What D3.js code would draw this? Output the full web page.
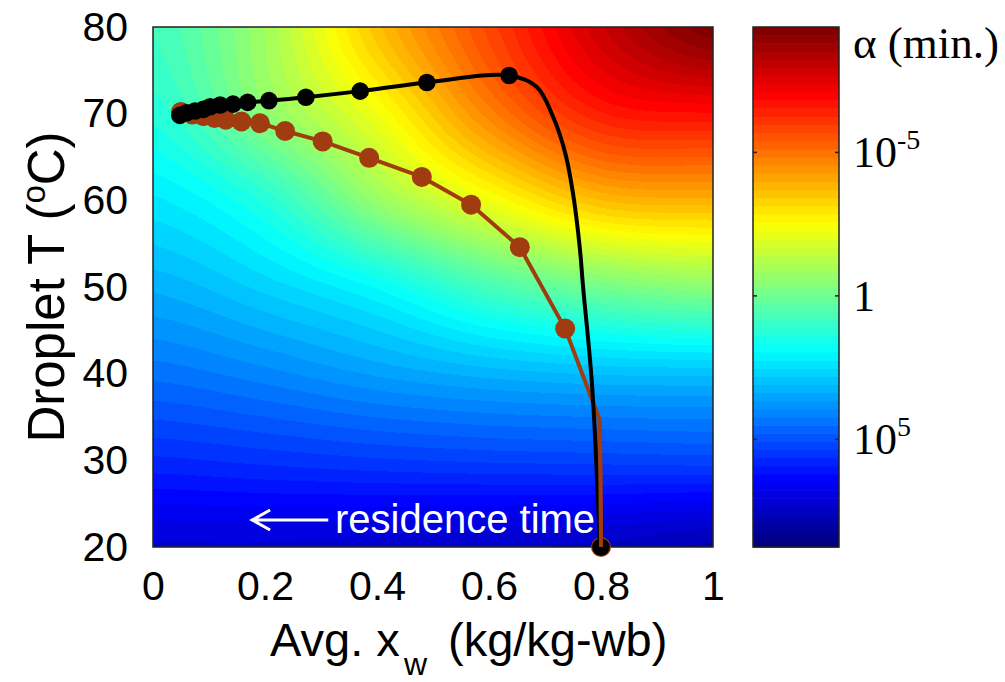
<!DOCTYPE html>
<html><head><meta charset="utf-8">
<script src="https://cdn.jsdelivr.net/npm/d3@7"></script>
<style>body{margin:0;background:#fff;} svg{display:block;}</style>
</head><body>
<svg id="chart" width="1005" height="682"></svg>
<script>
// ---------- data ----------
const xTicks = [0, 0.2, 0.4, 0.6, 0.8, 1];
const yTicks = [20, 30, 40, 50, 60, 70, 80];
// background field: log10(alpha, min)
const gridX = [0, 0.2, 0.4, 0.6, 0.8, 1.0];
const gridT = [20, 30, 40, 50, 60, 70, 80];
const logA_T20 = [7.1, 7.1, 7.2, 7.3, 7.4, 7.7];
const logA_T30 = [5.7, 5.55, 5.4, 5.3, 5.25, 5.2];
const logA_T40 = [4.4, 4.05, 3.6, 3.25, 3.05, 3.0];
const logA_T50 = [3.3, 2.7, 1.9, 0.7, -0.1, -0.5];
const logA_T60 = [2.3, 1.3, -0.7, -2.3, -3.7, -3.9];
const logA_T70 = [1.3, -0.5, -2.3, -4.7, -6.5, -6.8];
const logA_T80 = [0.8, -0.9, -3.6, -5.8, -7.9, -9.3];
// colour bar
const cbDomain = [8.75, -9.37];          // log10(alpha) at bottom / top of bar
const cbTicks = [-5, 0, 5];
const cbTickBase = ["10", "1", "10"];
const cbTickExp = ["-5", "", "5"];
// black trajectory
const blackLineX = [0.048, 0.06, 0.075, 0.09, 0.102, 0.12, 0.143, 0.169, 0.207, 0.273, 0.370, 0.489, 0.636, 0.685, 0.714, 0.736, 0.750, 0.762, 0.768, 0.784, 0.798];
const blackLineT = [69.8, 70.1, 70.3, 70.5, 70.8, 71.0, 71.1, 71.3, 71.5, 71.9, 72.6, 73.6, 74.4, 73.1, 69.7, 65.5, 60.8, 54.6, 50.0, 38.7, 20.0];
const blackDotX = [0.048, 0.06, 0.075, 0.09, 0.102, 0.12, 0.143, 0.169, 0.207, 0.273, 0.370, 0.489, 0.636, 0.800];
const blackDotT = [69.8, 70.1, 70.3, 70.5, 70.8, 71.0, 71.1, 71.3, 71.5, 71.9, 72.6, 73.6, 74.4, 20.0];
// brown trajectory
const brownLineX = [0.05, 0.07, 0.09, 0.11, 0.13, 0.158, 0.191, 0.236, 0.303, 0.386, 0.480, 0.568, 0.655, 0.736, 0.798, 0.800];
const brownLineT = [70.2, 69.9, 69.7, 69.5, 69.3, 69.1, 68.9, 68.0, 66.8, 64.9, 62.7, 59.5, 54.6, 45.2, 34.6, 20.0];
const brownDotX = [0.05, 0.07, 0.09, 0.11, 0.13, 0.158, 0.191, 0.236, 0.303, 0.386, 0.480, 0.568, 0.655, 0.736, 0.800];
const brownDotT = [70.2, 69.9, 69.7, 69.5, 69.3, 69.1, 68.9, 68.0, 66.8, 64.9, 62.7, 59.5, 54.6, 45.2, 20.0];

// ---------- layout ----------
const M = {l: 153, r: 713, t: 27, b: 547};
const CB = {l: 753, r: 839};
const BROWN = "#a03c0f";
const SANS = "'Liberation Sans', Arial, sans-serif";
const SERIF = "'Liberation Serif', 'Times New Roman', serif";

const svg = d3.select("#chart");
const x = d3.scaleLinear().domain([0, 1]).range([M.l, M.r]);
const y = d3.scaleLinear().domain([20, 80]).range([M.b, M.t]);
const cbY = d3.scaleLinear().domain(cbDomain).range([M.b, M.t]);
const tOf = d3.scaleLinear().domain(cbDomain).range([0, 1]).clamp(true);

function jet(t) {
  const q = Math.min(63, Math.floor(t * 64)) / 63;
  const c = v => Math.max(0, Math.min(1, v));
  return [c(1.5 - Math.abs(4 * q - 3)), c(1.5 - Math.abs(4 * q - 2)), c(1.5 - Math.abs(4 * q - 1))].map(v => Math.round(v * 255));
}
function cr(arr, u) {
  const n = arr.length;
  let i = Math.floor(u); if (i < 0) i = 0; if (i > n - 2) i = n - 2;
  const f = u - i;
  const p = k => arr[Math.max(0, Math.min(n - 1, k))];
  const p0 = p(i - 1), p1 = p(i), p2 = p(i + 1), p3 = p(i + 2);
  return 0.5 * (2 * p1 + (-p0 + p2) * f + (2 * p0 - 5 * p1 + 4 * p2 - p3) * f * f + (-p0 + 3 * p1 - 3 * p2 + p3) * f * f * f);
}
const grid = [logA_T20, logA_T30, logA_T40, logA_T50, logA_T60, logA_T70, logA_T80];
const ix = d3.scaleLinear().domain([gridX[0], gridX[gridX.length - 1]]).range([0, gridX.length - 1]);
const iT = d3.scaleLinear().domain([gridT[0], gridT[gridT.length - 1]]).range([0, gridT.length - 1]);

// ---------- field image ----------
const fw = M.r - M.l, fh = M.b - M.t;
const cv = document.createElement("canvas");
cv.width = fw; cv.height = fh;
const ctx = cv.getContext("2d");
const img = ctx.createImageData(fw, fh);
for (let px = 0; px < fw; px++) {
  const u = ix(x.invert(M.l + px + 0.5));
  const col = grid.map(row => cr(row, u));
  for (let py = 0; py < fh; py++) {
    const v = cr(col, iT(y.invert(M.t + py + 0.5)));
    const rgb = jet(tOf(v));
    const k = (py * fw + px) * 4;
    img.data[k] = rgb[0]; img.data[k + 1] = rgb[1]; img.data[k + 2] = rgb[2]; img.data[k + 3] = 255;
  }
}
ctx.putImageData(img, 0, 0);
svg.append("image").attr("x", M.l).attr("y", M.t).attr("width", fw).attr("height", fh)
  .attr("preserveAspectRatio", "none").attr("href", cv.toDataURL());

// frame
svg.append("rect").attr("x", M.l).attr("y", M.t).attr("width", fw).attr("height", fh)
  .attr("fill", "none").attr("stroke", "#222").attr("stroke-width", 1.5);

// annotation
const ay = 520;
svg.append("path").attr("d", `M${x(0.313)},${ay}H${x(0.177)}M${x(0.177) + 18},${ay - 10}L${x(0.177)},${ay}L${x(0.177) + 18},${ay + 10}`)
  .attr("stroke", "#fff").attr("stroke-width", 3).attr("fill", "none");
svg.append("text").attr("x", x(0.325)).attr("y", ay + 13).attr("font-family", SANS).attr("font-size", 40)
  .attr("fill", "#fff").text("residence time");

// curves
const line = d3.line().x(d => x(d[0])).y(d => y(d[1]));
svg.append("path").datum(brownLineX.map((v, i) => [v, brownLineT[i]]))
  .attr("d", line.curve(d3.curveLinear)).attr("fill", "none").attr("stroke", BROWN).attr("stroke-width", 4).attr("stroke-linejoin", "round");
svg.append("g").selectAll("circle").data(brownDotX.map((v, i) => [v, brownDotT[i]])).join("circle")
  .attr("cx", d => x(d[0])).attr("cy", d => y(d[1])).attr("r", 10).attr("fill", BROWN);
svg.append("path").datum(blackLineX.map((v, i) => [v, blackLineT[i]]))
  .attr("d", d3.line().x(d => x(d[0])).y(d => y(d[1])).curve(d3.curveCatmullRom)).attr("fill", "none").attr("stroke", "#000").attr("stroke-width", 4);
svg.append("g").selectAll("circle").data(blackDotX.map((v, i) => [v, blackDotT[i]])).join("circle")
  .attr("cx", d => x(d[0])).attr("cy", d => y(d[1])).attr("r", 8.8).attr("fill", "#000");
// brown line over the last bottom stretch
svg.append("path").datum(brownLineX.slice(-2).map((v, i) => [v, brownLineT.slice(-2)[i]]))
  .attr("d", line.curve(d3.curveLinear)).attr("fill", "none").attr("stroke", BROWN).attr("stroke-width", 4);

// axes
const xAxis = svg.append("g").attr("transform", `translate(0,${M.b})`)
  .call(d3.axisBottom(x).tickValues(xTicks).tickSize(0).tickPadding(24).tickFormat(d3.format("")));
const yAxis = svg.append("g").attr("transform", `translate(${M.l},0)`)
  .call(d3.axisLeft(y).tickValues(yTicks).tickSize(0).tickPadding(25).tickFormat(d3.format("")));
[xAxis, yAxis].forEach(g => {
  g.select(".domain").remove();
  g.selectAll("text").attr("font-family", SANS).attr("font-size", 41).attr("fill", "#000");
});

// axis titles
const xt = svg.append("g").attr("font-family", SANS).attr("fill", "#000");
xt.append("text").attr("x", 270).attr("y", 656).attr("font-size", 47).text("Avg. x");
xt.append("text").attr("x", 404).attr("y", 675).attr("font-size", 32).text("w");
xt.append("text").attr("x", 448).attr("y", 656).attr("font-size", 47).text("(kg/kg-wb)");

const yt = svg.append("text").attr("transform", `translate(64,${(M.t + M.b) / 2}) rotate(-90)`)
  .attr("text-anchor", "middle").attr("font-family", SANS).attr("font-size", 51).attr("fill", "#000");
yt.append("tspan").text("Droplet T (");
yt.append("tspan").attr("font-size", 33).attr("dy", -19).text("o");
yt.append("tspan").attr("dy", 19).text("C)");

// colour bar
const nB = 64;
const bandH = (M.b - M.t) / nB;
svg.append("g").selectAll("rect").data(d3.range(nB)).join("rect")
  .attr("x", CB.l).attr("width", CB.r - CB.l)
  .attr("y", i => cbY(cbDomain[0] + (cbDomain[1] - cbDomain[0]) * (i + 1) / nB))
  .attr("height", bandH + 0.6)
  .attr("fill", i => { const c = jet((i + 0.5) / nB); return `rgb(${c[0]},${c[1]},${c[2]})`; });
svg.append("rect").attr("x", CB.l).attr("y", M.t).attr("width", CB.r - CB.l).attr("height", M.b - M.t)
  .attr("fill", "none").attr("stroke", "#222").attr("stroke-width", 1.5);
const cbt = svg.append("g");
cbTicks.forEach((v, i) => {
  const yy = cbY(v);
  cbt.append("line").attr("x1", CB.l).attr("x2", CB.l + 4).attr("y1", yy).attr("y2", yy).attr("stroke", "#222").attr("stroke-width", 1.5);
  cbt.append("line").attr("x1", CB.r - 4).attr("x2", CB.r).attr("y1", yy).attr("y2", yy).attr("stroke", "#222").attr("stroke-width", 1.5);
  const t = cbt.append("text").attr("x", 853).attr("y", yy + 15).attr("font-family", SERIF).attr("font-size", 44).attr("fill", "#000");
  t.append("tspan").text(cbTickBase[i]);
  if (cbTickExp[i]) t.append("tspan").attr("font-size", 28).attr("dy", -18).text(cbTickExp[i]);
});
svg.append("text").attr("x", 853).attr("y", 58).attr("font-family", SERIF).attr("font-size", 45).attr("fill", "#000").text("α (min.)");
</script>
</body></html>
